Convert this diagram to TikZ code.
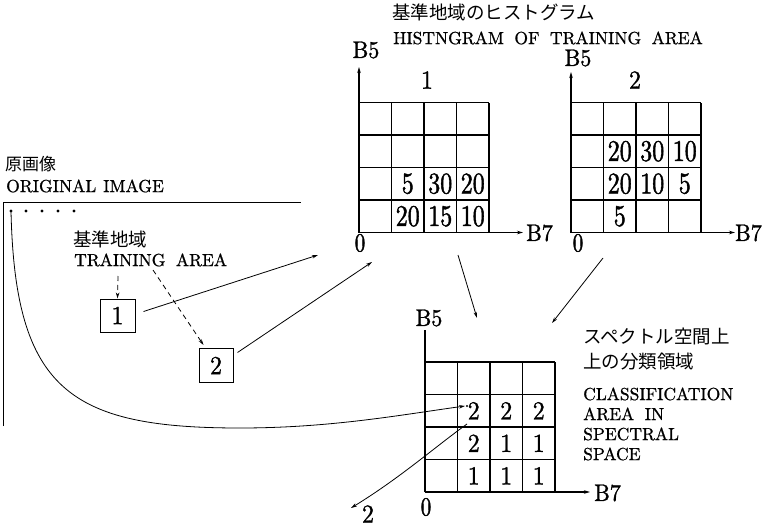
\documentclass[tikz,border=0pt]{standalone}
\usepackage{fontspec}
\usetikzlibrary{arrows.meta}
\newfontfamily\eng[Extension=.otf,FakeBold=0.8]{lmroman10-regular}
\newfontfamily\digf[Extension=.otf,FakeStretch=0.8,FakeBold=1.4]{lmroman10-regular}
\newfontfamily\labf[Extension=.otf,FakeStretch=0.92,FakeBold=1.2]{lmroman10-regular}
\newfontfamily\jp{Noto Sans CJK JP}
\tikzset{
  lbl/.style={inner sep=0pt, anchor=west, font=\eng\fontsize{17.5}{17.5}\selectfont},
  jlbl/.style={inner sep=0pt, anchor=west, font=\jp\fontsize{18.5}{18.5}\selectfont},
  num/.style={inner sep=0pt, font=\digf\fontsize{30}{30}\selectfont},
  cnum/.style={inner sep=0pt, font=\labf\fontsize{26}{26}\selectfont},
  axl/.style={inner sep=0pt, font=\labf\fontsize{24}{24}\selectfont},
  zerol/.style={inner sep=0pt, font=\digf\fontsize{26}{26}\selectfont},
  gridl/.style={line width=1.1pt},
  axis/.style={line width=1.1pt, -{Stealth[length=6pt,width=3.5pt]}},
  arr/.style={line width=0.8pt, -{Stealth[length=6pt,width=3.5pt]}},
  dsh/.style={arr, dash pattern=on 5pt off 4pt},
  boxn/.style={draw, line width=1pt, minimum width=35pt, minimum height=33pt, inner sep=0pt, font=\labf\fontsize{26}{26}\selectfont}
}
\newcommand\mygrid[1]{%
  \begin{scope}[shift={#1}]
    \foreach \k in {0,...,4} {
      \draw[gridl] (\k*32.5,0) -- (\k*32.5,-130);
      \draw[gridl] (0,-\k*32.5) -- (130,-\k*32.5);
    }
  \end{scope}}
\begin{document}
\begin{tikzpicture}[x=1pt,y=-1pt]
\useasboundingbox (0,0) rectangle (763,527);

% ---------- original image ----------
\node[jlbl, font=\jp\fontsize{17}{17}\selectfont] (jorig) at (5,164) {原画像};
\node[lbl] (eorig) at (6,186) {ORIGINAL\hspace{0.4em}IMAGE};
\coordinate (imgtl) at (3,202);
\coordinate (imgtr) at (301,202);
\coordinate (imgbl) at (3,426);
\draw[line width=1pt] (imgbl) -- (imgtl) -- (imgtr);
\coordinate (d1) at (11,211);
\foreach \x in {11,26,42,58,74} \fill (\x,211) circle (1.7pt);

\node[jlbl] (jtrain) at (73,239) {基準地域};
\node[lbl] (etrain) at (74,260) {TRAINING\hspace{0.6em}AREA};

\node[boxn] (box1) at (117.5,315.5) {1};
\node[boxn, minimum height=34pt, minimum width=34pt] (box2) at (216,365.5) {2};

\coordinate (t1) at (118,276);
\coordinate (t2) at (153,270);
\draw[dsh] (t1) -- (box1.north);
\draw[dsh] (t2) -- ([xshift=5pt,yshift=3pt]box2.north west);

\coordinate (b1e) at (318,255);
\coordinate (b2e) at (372,262);
\draw[arr] ([xshift=8pt,yshift=4pt]box1.east) -- (b1e);
\draw[arr] ([xshift=4pt,yshift=13pt]box2.east) -- (b2e);

% ---------- histogram title ----------
\node[jlbl] (jhist) at (392,12) {基準地域のヒストグラム};
\node[lbl] (ehist) at (393,38) {HISTNGRAM\hspace{0.6em}OF\hspace{0.6em}TRAINING\hspace{0.6em}AREA};

% ---------- histogram 1 ----------
\mygrid{(359,232.5)}
\coordinate (o1) at (359,232.5);
\coordinate (y1) at (359,67);
\coordinate (x1) at (523,232.5);
\draw[axis] (o1) -- (y1);
\draw[axis] (o1) -- (x1);
\node[axl] (h1B5) at (366,50) {B5};
\node[axl, anchor=west] (h1B7) at (526,233) {B7};
\node[zerol] (h1zero) at (360,243) {0};
\node[cnum] (h1lab) at (427,80) {1};
\foreach \i/\j/\v in {2/2/5,3/2/30,4/2/20,2/1/20,3/1/15,4/1/10}
  \node[num] (hA\i\j) at ({359+(\i-0.5)*32.5},{232.5-(\j-0.5)*32.5}) {\v};

% ---------- histogram 2 ----------
\mygrid{(571,232.5)}
\coordinate (o2) at (571,232.5);
\coordinate (y2) at (571,72);
\coordinate (x2) at (735,232.5);
\draw[axis] (o2) -- (y2);
\draw[axis] (o2) -- (x2);
\node[axl] (h2B5) at (578,58) {B5};
\node[axl, anchor=east] (h2B7) at (762,233) {B7};
\node[zerol] (h2zero) at (578,243) {0};
\node[cnum] (h2lab) at (635,80) {2};
\foreach \i/\j/\v in {2/3/20,3/3/30,4/3/10,2/2/20,3/2/10,4/2/5,2/1/5}
  \node[num] (hB\i\j) at ({571+(\i-0.5)*32.5},{232.5-(\j-0.5)*32.5}) {\v};

% ---------- arrows to classification ----------
\coordinate (a1s) at (458,255);
\coordinate (a1e) at (477,318);
\coordinate (a2s) at (603,258);
\coordinate (a2e) at (552,323);
\draw[arr] (a1s) -- (a1e);
\draw[arr] (a2s) -- (a2e);

% ---------- classification grid ----------
\mygrid{(425,492)}
\coordinate (o3) at (425,492);
\coordinate (y3) at (425,330);
\coordinate (x3) at (590,492);
\draw[line width=1.1pt] (o3) -- (y3);
\draw[axis] (o3) -- (x3);
\node[axl] (cB5) at (429,318) {B5};
\node[axl, anchor=west] (cB7) at (594,493) {B7};
\node[zerol] (czero) at (426,507) {0};
\foreach \i/\j/\v in {2/3/2,3/3/2,4/3/2,2/2/2,3/2/1,4/2/1,2/1/1,3/1/1,4/1/1}
  \node[cnum] (cC\i\j) at ({425+(\i-0.5)*32.5},{492-(\j-0.5)*32.5}) {\v};

\node[jlbl] (jcls1) at (583,336) {スペクトル空間上};
\node[jlbl] (jcls2) at (583,362) {上の分類領域};
\node[lbl] (ecls1) at (583,394) {CLASSIFICATION};
\node[lbl] (ecls2) at (583,414) {AREA\hspace{0.6em}IN};
\node[lbl] (ecls3) at (583,434) {SPECTRAL};
\node[lbl] (ecls4) at (583,454) {SPACE};

% ---------- curves ----------
\coordinate (cdot) at (467,406);
\fill (cdot) circle (1.2pt);
\draw[arr] (d1) .. controls (15,390) and (70,428) .. (240,428)
               .. controls (330,428) and (400,415) .. ([xshift=-2pt]cdot);
\coordinate (s2) at (467,424);
\coordinate (e2) at (351,508);
\draw[arr] (s2) .. controls (435,447) and (400,478) .. (e2);
\node[cnum] (lab2) at (368,514) {2};
\end{tikzpicture}
\end{document}
